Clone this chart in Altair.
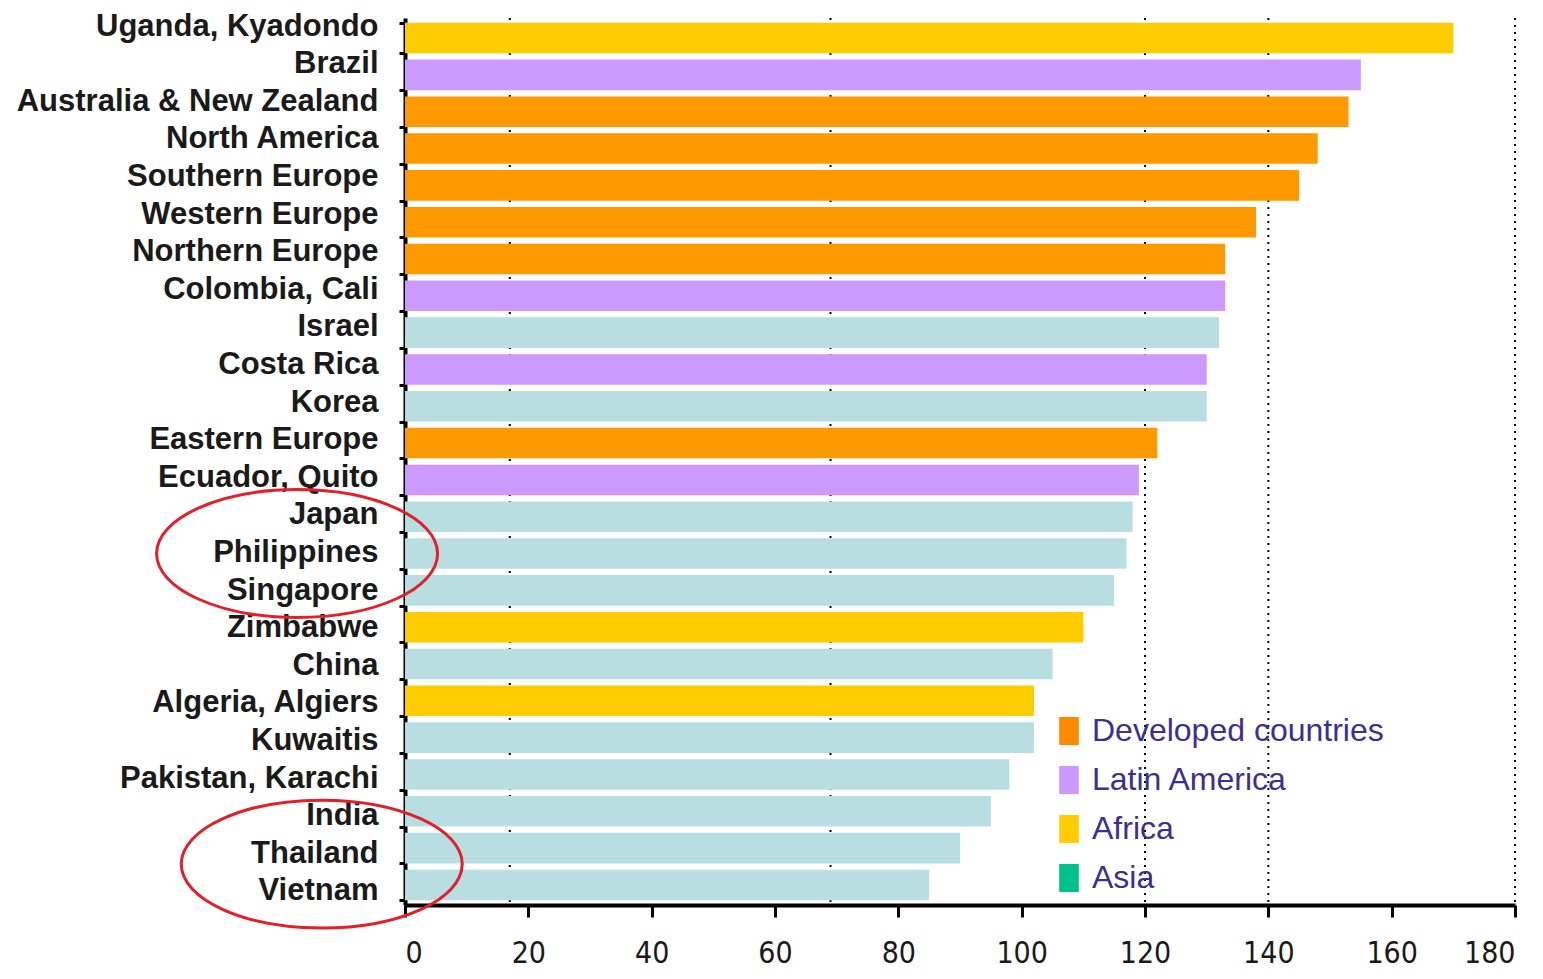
import altair as alt
import pandas as pd

countries = ["Uganda, Kyadondo", "Brazil", "Australia & New Zealand", "North America",
             "Southern Europe", "Western Europe", "Northern Europe", "Colombia, Cali",
             "Israel", "Costa Rica", "Korea", "Eastern Europe", "Ecuador, Quito",
             "Japan", "Philippines", "Singapore", "Zimbabwe", "China", "Algeria, Algiers",
             "Kuwaitis", "Pakistan, Karachi", "India", "Thailand", "Vietnam"]
values = [170, 155, 153, 148, 145, 138, 133, 133, 132, 130, 130, 122, 119,
          118, 117, 115, 110, 105, 102, 102, 98, 95, 90, 85]
groups = ["Africa", "Latin America", "Developed countries", "Developed countries",
          "Developed countries", "Developed countries", "Developed countries", "Latin America",
          "Asia", "Latin America", "Asia", "Developed countries", "Latin America",
          "Asia", "Asia", "Asia", "Africa", "Asia", "Africa",
          "Asia", "Asia", "Asia", "Asia", "Asia"]

group_names = ["Developed countries", "Latin America", "Africa", "Asia"]
bar_colors = ["#FF9900", "#CC99FF", "#FFCC00", "#B8DEE2"]
legend_colors = ["#FF8A00", "#CC99FF", "#FFCC00", "#00C08C"]

# dotted vertical gridlines as they sit in the picture
grid_values = [17, 69, 120, 140, 180]

# red rings drawn around two groups of Asian countries
ringed = ["Philippines", "Thailand"]
ring_x = [-17.5, -13.5]

df = pd.DataFrame({"country": countries, "value": values, "group": groups})
rings = pd.DataFrame({"country": ringed, "x": ring_x})
grid_df = pd.DataFrame({"g": grid_values})

y_sort = alt.Y("country:N", sort=countries)

# the category labels are spaced a bit wider than the bars in the original
y_enc = alt.Y("country:N", sort=countries, title=None,
              scale=alt.Scale(paddingInner=0.17, paddingOuter=0.13),
              axis=alt.Axis(labelFont="Liberation Sans", labelFontSize=31,
                            labelFontWeight="bold", labelColor="#1a1a1a", labelLimit=0,
                            labelPadding=21, tickBand="extent", tickSize=6,
                            labelOffset=alt.ExprRef("-12 + 18 * datum.index"),
                            tickWidth=3, tickColor="black", domainColor="black",
                            domainWidth=4, grid=False))

x_enc = alt.X("value:Q", title=None,
              scale=alt.Scale(domain=[0, 180], nice=False),
              axis=alt.Axis(values=list(range(0, 181, 20)),
                            labelFont="Liberation Sans Narrow, DejaVu Sans Condensed, Liberation Sans",
                            labelFontSize=30, labelColor="#1a1a1a", labelPadding=21,
                            tickSize=12, tickWidth=3, tickColor="black",
                            domainColor="black", domainWidth=4, grid=False))

grid = alt.Chart(grid_df).mark_rule(
    color="black", strokeWidth=2, strokeDash=[2, 5]
).encode(x="g:Q")

# tiny points hidden under the bars, only there to carry the legend swatch colours
legend_layer = alt.Chart(df).mark_point(filled=True, size=4, strokeWidth=0).encode(
    y=y_sort,
    x=alt.datum(40),
    color=alt.Color("group:N", title=None,
                    scale=alt.Scale(domain=group_names, range=legend_colors),
                    legend=alt.Legend(orient="none", legendX=648, legendY=697,
                                      symbolType="M-0.7,-1H0.7V1H-0.7Z", symbolSize=784,
                                      symbolStrokeWidth=0, symbolOpacity=1,
                                      labelFont="Liberation Sans", labelFontSize=32,
                                      labelColor="#3b3090", labelOffset=7, labelLimit=0,
                                      rowPadding=17)),
)

bars = alt.Chart(df).mark_bar().encode(
    y=y_enc,
    x=x_enc,
    color=alt.Color("group:N", legend=None,
                    scale=alt.Scale(domain=group_names, range=bar_colors)),
)

ring_shape = "M-1,0A1,0.455,0,1,0,1,0A1,0.455,0,1,0,-1,0Z"
ring1 = alt.Chart(rings).transform_filter(alt.datum.country == ringed[0]).mark_point(
    shape=ring_shape, size=281 * 281, filled=False, stroke="#E0202A",
    strokeWidth=3, opacity=1,
).encode(y=y_sort, x="x:Q")
ring2 = alt.Chart(rings).transform_filter(alt.datum.country == ringed[1]).mark_point(
    shape=ring_shape, size=281 * 281, filled=False, stroke="#E0202A",
    strokeWidth=3, opacity=1, yOffset=16,
).encode(y=y_sort, x="x:Q")

chart = alt.layer(grid, legend_layer, bars, ring1, ring2).resolve_scale(
    color="independent"
).properties(
    width=1110,
    height=887,
    autosize=alt.AutoSizeParams(type="none"),
    padding={"left": 397, "top": 10, "right": 20, "bottom": 70},
    background="white",
).configure_view(strokeWidth=0)

chart.save("out.html", embed_options={"renderer": "svg", "actions": False})
